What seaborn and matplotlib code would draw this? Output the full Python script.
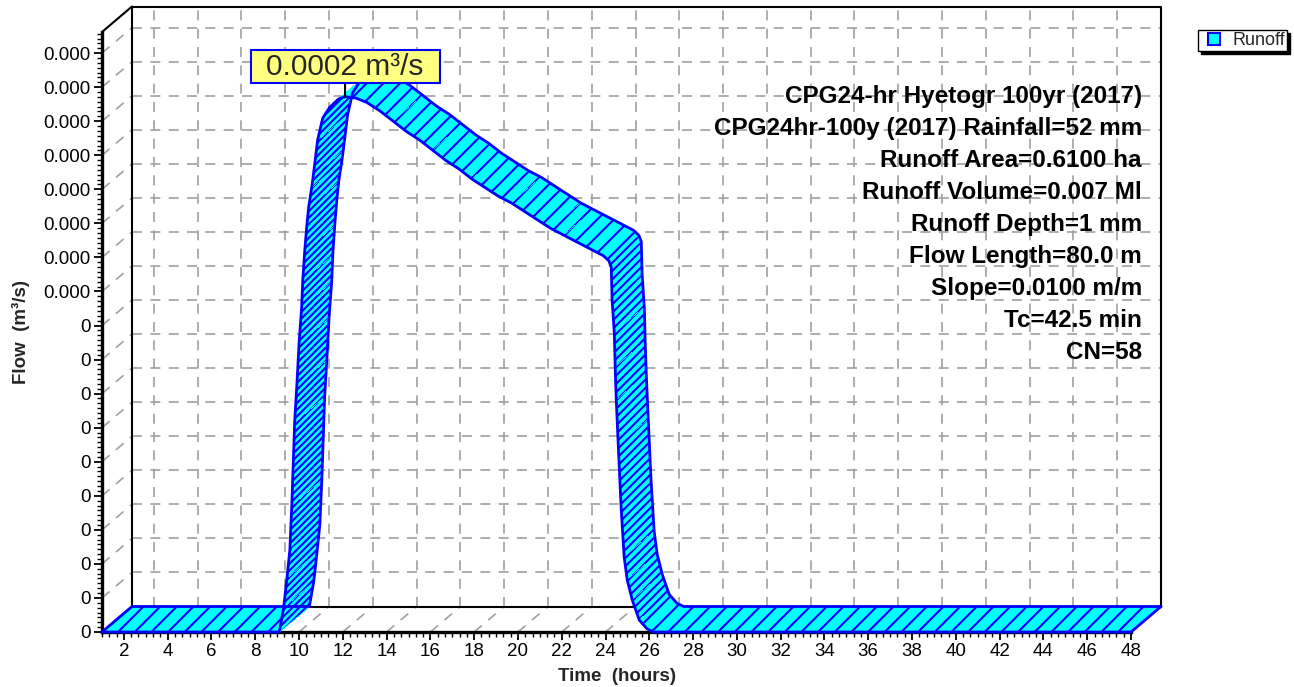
import numpy as np
import matplotlib
matplotlib.use("Agg")
import matplotlib.pyplot as plt
import matplotlib.transforms as mtransforms
from matplotlib.collections import PolyCollection, LineCollection
from matplotlib.lines import Line2D
from matplotlib.path import Path
from matplotlib.ticker import AutoMinorLocator
import seaborn as sns

# Runoff hydrograph
hours = [1.0, 9.1, 9.3, 9.45, 9.58, 9.67, 9.8, 9.9, 10.0, 10.12, 10.17, 10.26,
         10.35, 10.44, 10.58, 10.65, 10.85, 11.08, 11.4, 11.8, 12.1, 12.6, 13.1,
         13.7, 14.3, 14.9, 15.5, 16.1, 16.7, 17.3, 17.9, 18.5, 19.1, 19.7, 20.3,
         20.9, 21.5, 22.1, 22.7, 23.3, 23.9, 24.15, 24.26, 24.30, 24.40, 24.44,
         24.49, 24.58, 24.71, 24.85, 24.99, 25.22, 25.54, 25.90, 26.2, 48.0]
flow = [0, 0, 0.73e-5, 1.59e-5, 2.41e-5, 3.73e-5, 6.17e-5, 7.25e-5, 8.48e-5,
        9.54e-5, 10.33e-5, 11.2e-5, 11.9e-5, 12.48e-5, 13.06e-5, 13.4e-5,
        14.45e-5, 15.09e-5, 15.41e-5, 15.65e-5, 15.72e-5, 15.68e-5, 15.55e-5,
        15.3e-5, 15.0e-5, 14.7e-5, 14.45e-5, 14.15e-5, 13.85e-5, 13.6e-5,
        13.3e-5, 13.05e-5, 12.8e-5, 12.6e-5, 12.35e-5, 12.1e-5, 11.85e-5,
        11.65e-5, 11.45e-5, 11.25e-5, 11.05e-5, 10.9e-5, 10.72e-5, 9.75e-5,
        8.78e-5, 7.78e-5, 6.81e-5, 5.49e-5, 3.67e-5, 2.2e-5, 1.53e-5, 0.94e-5,
        0.35e-5, 0.09e-5, 0, 0]

time_ticks = [2, 4, 6, 8, 10, 12, 14, 16, 18, 20, 22, 24, 26, 28, 30, 32, 34,
              36, 38, 40, 42, 44, 46, 48]
flow_ticks = [0, 1e-5, 2e-5, 3e-5, 4e-5, 5e-5, 6e-5, 7e-5, 8e-5, 9e-5, 10e-5,
              11e-5, 12e-5, 13e-5, 14e-5, 15e-5, 16e-5, 17e-5]
flow_tick_labels = ["0"] * 10 + ["0.000"] * 8

info_lines = ["CPG24-hr Hyetogr 100yr (2017)",
              "CPG24hr-100y (2017) Rainfall=52 mm",
              "Runoff Area=0.6100 ha",
              "Runoff Volume=0.007 Ml",
              "Runoff Depth=1 mm",
              "Flow Length=80.0 m",
              "Slope=0.0100 m/m",
              "Tc=42.5 min",
              "CN=58"]
series_name = "Runoff"

FILL = "#00ffff"
EDGE = "#0000ff"
GRID = "#a0a0a0"

sns.set_style("white")
plt.rcParams["font.family"] = ["Liberation Sans", "DejaVu Sans"]
plt.rcParams["hatch.linewidth"] = 1.5
plt.rcParams["hatch.color"] = EDGE

W, H = 1294, 687
fig = plt.figure(figsize=(W / 100, H / 100), dpi=100)
ax = fig.add_axes([102 / W, (H - 632) / H, 1029 / W, 600 / H])
ax.set_xlim(1, 48)
ax.set_ylim(0, 17.62e-5)

# depth of the pseudo 3d box, in pixels
depth_x, depth_y = 30, 25.5
off = mtransforms.ScaledTranslation(depth_x / 100, depth_y / 100, fig.dpi_scale_trans)


def to_back(x, y):
    d = ax.transData.transform(np.column_stack([x, y]))
    return ax.transData.inverted().transform(d + [depth_x, depth_y])


# back wall grid and frame
dash = (0, (6, 5))
ax.vlines(time_ticks, 0, 1, transform=ax.get_xaxis_transform() + off,
          colors=GRID, linestyles=dash, lw=1.2, clip_on=False, zorder=1)
ax.hlines(flow_ticks[1:], 0, 1, transform=ax.get_yaxis_transform() + off,
          colors=GRID, linestyles=dash, lw=1.2, clip_on=False, zorder=1)
ax.plot([0, 0, 1, 1, 0], [0, 1, 1, 0, 0], transform=ax.transAxes + off,
        color="black", lw=1.5, clip_on=False, zorder=1.5)

x0, x1 = ax.get_xlim()
y0, y1 = ax.get_ylim()
yt = np.array(flow_ticks)
wall_back = to_back(np.full(len(yt), x0), yt)
segs = [[(x0, v), tuple(b)] for v, b in zip(yt, wall_back)]
xt = np.array(time_ticks, dtype=float)
floor_back = to_back(xt, np.zeros(len(xt)))
segs += [[(t, 0), tuple(b)] for t, b in zip(xt, floor_back)]
ax.add_collection(LineCollection(segs, colors=GRID, linestyles=dash, lw=1.2,
                                 clip_on=False, zorder=1))
corner = to_back([x0], [y1])[0]
ax.plot([x0, corner[0]], [y1, corner[1]], color="black", lw=1.5,
        clip_on=False, zorder=1.5)

# ribbon
front = np.column_stack([hours, flow])
back = to_back(hours, flow)
disp = ax.transData.transform(front)
kinds = []
for i in range(len(hours) - 1):
    dxp = disp[i + 1, 0] - disp[i, 0]
    dyp = disp[i + 1, 1] - disp[i, 1]
    if abs(dyp) > 1.5 * abs(dxp):
        kinds.append("rise" if dyp > 0 else "fall")
    else:
        kinds.append("flat")
hatches = {"rise": "/////", "fall": "////", "flat": "//"}

runs = []
for i, k in enumerate(kinds):
    quad = [front[i], front[i + 1], back[i + 1], back[i]]
    if runs and runs[-1][0] == k:
        runs[-1][1].append(quad)
    else:
        runs.append((k, [quad]))
for j, (k, quads) in enumerate(runs):
    ax.add_collection(PolyCollection(quads, facecolors=FILL, edgecolors=EDGE,
                                     linewidths=0, hatch=hatches[k],
                                     antialiased=False, clip_on=False,
                                     zorder=3 + j * 0.01))

sns.lineplot(x=hours, y=flow, color=EDGE, lw=2, estimator=None, sort=False,
             ax=ax, clip_on=False, zorder=4)
sns.lineplot(x=back[:, 0], y=back[:, 1], color=EDGE, lw=2, estimator=None,
             sort=False, ax=ax, clip_on=False, zorder=4)
for i in (0, -1):
    ax.plot([front[i, 0], back[i, 0]], [front[i, 1], back[i, 1]], color=EDGE,
            lw=2, clip_on=False, zorder=4)

# axes
for s in ("top", "right"):
    ax.spines[s].set_visible(False)
for s in ("left", "bottom"):
    ax.spines[s].set_color("black")
    ax.spines[s].set_linewidth(2.4)
ax.set_xticks(time_ticks)
ax.set_yticks(flow_ticks, flow_tick_labels)
ax.xaxis.set_minor_locator(AutoMinorLocator(6))
ax.yaxis.set_minor_locator(AutoMinorLocator(7))
ax.tick_params(which="both", bottom=True, left=True, direction="out",
               color="black", labelcolor="black")
ax.tick_params(which="major", length=6, width=1.3, labelsize=13.5, pad=2)
ax.tick_params(which="minor", length=3.5, width=1)
ax.set_xlabel("Time  (hours)", fontsize=13.5, fontweight="bold", labelpad=6)
ax.set_ylabel("Flow  (m³/s)", fontsize=13.5, fontweight="bold", labelpad=10)

for i, line in enumerate(info_lines):
    ax.text((1142 - 102) / 1029, (632 - 97 - i * 31.9) / 600, line,
            transform=ax.transAxes, ha="right", va="center", fontsize=17.5,
            fontweight="bold", color="black", zorder=6)


def wide_box(x, y, width, height, mutation_size):
    px, py = 0.53 * mutation_size, 0.08 * mutation_size
    return Path([(x - px, y - py), (x + width + px, y - py),
                 (x + width + px, y + height + py), (x - px, y + height + py),
                 (x - px, y - py)], closed=True)


ipk = int(np.argmax(flow))
ax.annotate(f"{flow[ipk]:.4f} m³/s", xy=(hours[ipk], flow[ipk]),
            xytext=(0, 30), textcoords="offset pixels", ha="center",
            va="center", fontsize=21.5, annotation_clip=False, zorder=10,
            bbox=dict(boxstyle=wide_box, fc="#ffff80", ec=EDGE, lw=1.5),
            arrowprops=dict(arrowstyle="-", color="black", lw=1.5,
                            shrinkA=0, shrinkB=0))

handle = Line2D([], [], ls="none", marker="s", ms=8.5, mfc=FILL, mec=EDGE, mew=1.5)
leg = fig.legend(handles=[handle], labels=[series_name], loc="upper right",
                 bbox_to_anchor=(1287 / W, (H - 30) / H), frameon=True,
                 fancybox=False, shadow={"color": "black", "alpha": 1},
                 edgecolor="black", framealpha=1, fontsize=13, borderpad=0.12,
                 handlelength=1.5, handletextpad=0.25, borderaxespad=0)
leg.get_frame().set_linewidth(1)

fig.savefig("out.png", dpi=100)
